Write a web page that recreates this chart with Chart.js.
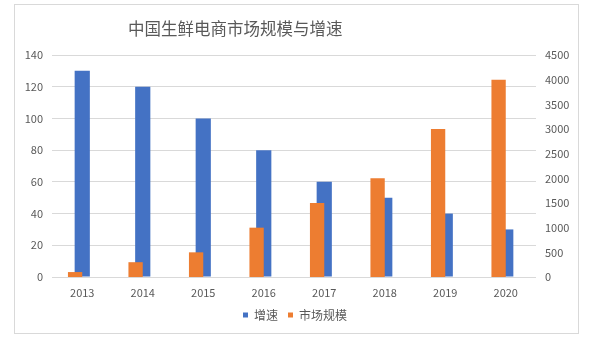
<!DOCTYPE html>
<html>
<head>
<meta charset="utf-8">
<script src="https://cdn.jsdelivr.net/npm/chart.js@4"></script>
<style>
  html, body { margin: 0; padding: 0; background: #ffffff; }
  #wrap { position: relative; width: 590px; height: 342px; overflow: hidden; }
  canvas { position: absolute; left: 0; top: 0; }
  #frame { position: absolute; left: 14px; top: 4px; width: 563px; height: 328px;
           border: 1px solid #d9d9d9; pointer-events: none; }
  #title { position: absolute; left: 128px; top: 20px; font-family: "Noto Sans CJK SC", sans-serif;
           font-size: 16.5px; line-height: 1; color: #595959; white-space: nowrap; }
</style>
</head>
<body>
<div id="wrap">
  <canvas id="chart" width="590" height="342"></canvas>
  <div id="frame"></div>
  <div id="title">中国生鲜电商市场规模与增速</div>
</div>
<script>
// Years on the category axis
const years = ['2013', '2014', '2015', '2016', '2017', '2018', '2019', '2020'];
// 增速 (left axis)
const growth = [130, 120, 100, 80, 60, 50, 40, 30];
// 市场规模 (right axis)
const marketSize = [100, 300, 500, 1000, 1500, 2000, 3000, 4000];
// Axis ranges and tick steps
const growthAxis = { min: 0, max: 140, step: 20 };
const sizeAxis = { min: 0, max: 4500, step: 500 };

Chart.defaults.font.family = '"Noto Sans CJK SC", sans-serif';
Chart.defaults.font.size = 11;
Chart.defaults.color = '#595959';

new Chart(document.getElementById('chart'), {
  type: 'bar',
  data: {
    labels: years,
    datasets: [
      {
        // centred on each year, not grouped with the others
        label: '增速',
        data: growth,
        backgroundColor: '#4472C4',
        yAxisID: 'y',
        order: 2,
        grouped: false,
        barPercentage: 0.314
      },
      {
        label: '市场规模',
        data: marketSize,
        backgroundColor: '#ED7D31',
        yAxisID: 'y1',
        order: 0,
        categoryPercentage: 0.473,
        barPercentage: 1
      },
      {
        // empty slot so the orange bars sit in the left half of each year
        label: '',
        data: [],
        yAxisID: 'y1',
        order: 1,
        categoryPercentage: 0.473,
        barPercentage: 1
      }
    ]
  },
  options: {
    responsive: false,
    animation: false,
    devicePixelRatio: 1,
    layout: { padding: { top: 55, bottom: 11, left: 0, right: 0 } },
    plugins: {
      title: { display: false },
      tooltip: { enabled: false },
      legend: {
        position: 'bottom',
        labels: {
          boxWidth: 5,
          boxHeight: 5,
          padding: 10,
          font: { size: 12 },
          color: '#595959',
          filter: (item) => item.datasetIndex !== 2,
          sort: (a, b) => a.datasetIndex - b.datasetIndex
        }
      }
    },
    scales: {
      x: {
        type: 'category',
        offset: true,
        grid: { display: false, drawTicks: false },
        border: { display: false },
        ticks: { padding: 9, maxRotation: 0 },
        afterFit: (s) => { s.height = 22; }
      },
      y: {
        position: 'left',
        min: growthAxis.min,
        max: growthAxis.max,
        ticks: { stepSize: growthAxis.step, padding: 9 },
        grid: { color: '#d9d9d9', lineWidth: 1, drawTicks: false },
        border: { display: false },
        afterFit: (s) => { s.width = 52; }
      },
      y1: {
        position: 'right',
        min: sizeAxis.min,
        max: sizeAxis.max,
        ticks: { stepSize: sizeAxis.step, padding: 9, format: { useGrouping: false } },
        grid: { display: false, drawTicks: false },
        border: { display: false },
        afterFit: (s) => { s.width = 54; }
      }
    }
  }
});
</script>
</body>
</html>
